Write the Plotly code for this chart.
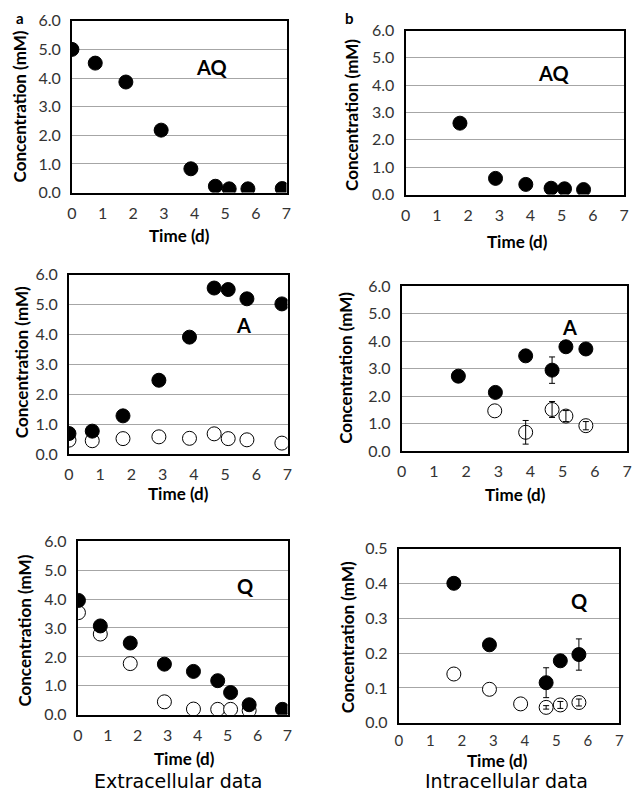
import plotly.graph_objects as go

# ---- data ----
ext_aq_t = [0, 0.76, 1.76, 2.91, 3.88, 4.68, 5.13, 5.74, 6.86]
ext_aq = [5.0, 4.52, 3.86, 2.18, 0.83, 0.22, 0.13, 0.13, 0.14]

int_aq_t = [1.74, 2.88, 3.85, 4.66, 5.09, 5.70]
int_aq = [2.61, 0.59, 0.37, 0.23, 0.21, 0.18]

ext_a_t = [0, 0.745, 1.73, 2.88, 3.86, 4.65, 5.10, 5.70, 6.82]
ext_a_filled = [0.69, 0.77, 1.28, 2.47, 3.91, 5.55, 5.50, 5.19, 5.02]
ext_a_open = [0.47, 0.45, 0.52, 0.58, 0.53, 0.68, 0.52, 0.48, 0.37]

int_a_t_filled = [1.76, 2.91, 3.85, 4.67, 5.10, 5.72]
int_a_filled = [2.73, 2.14, 3.47, 2.95, 3.80, 3.72]
int_a_filled_err = [0, 0, 0, 0.48, 0, 0]
int_a_t_open = [2.89, 3.85, 4.67, 5.10, 5.72]
int_a_open = [1.47, 0.69, 1.52, 1.28, 0.93]
int_a_open_err = [0, 0.43, 0.29, 0.2, 0.15]

ext_q_t_filled = [0.02, 0.75, 1.75, 2.89, 3.86, 4.67, 5.10, 5.72, 6.83]
ext_q_filled = [3.95, 3.07, 2.48, 1.75, 1.50, 1.18, 0.77, 0.35, 0.19]
ext_q_t_open = [0.02, 0.75, 1.75, 2.89, 3.86, 4.67, 5.10, 5.72]
ext_q_open = [3.53, 2.79, 1.77, 0.45, 0.20, 0.19, 0.19, 0.15]

int_q_t_filled = [1.75, 2.88, 4.68, 5.13, 5.72]
int_q_filled = [0.401, 0.224, 0.115, 0.178, 0.196]
int_q_filled_err = [0, 0, 0.043, 0, 0.045]
int_q_t_open = [1.75, 2.88, 3.87, 4.68, 5.13, 5.72]
int_q_open = [0.140, 0.096, 0.054, 0.044, 0.051, 0.058]
int_q_open_err = [0, 0, 0, 0.005, 0.01, 0.01]

x_ticks = [0, 1, 2, 3, 4, 5, 6, 7]
y_ticks_big = [0, 1, 2, 3, 4, 5, 6]
y_ticks_big_text = ["0.0", "1.0", "2.0", "3.0", "4.0", "5.0", "6.0"]
y_ticks_small = [0, 0.1, 0.2, 0.3, 0.4, 0.5]
y_ticks_small_text = ["0.0", "0.1", "0.2", "0.3", "0.4", "0.5"]

panel_labels = ["AQ", "AQ", "A", "A", "Q", "Q"]
x_title = "Time (d)"
y_title = "Concentration (mM)"
col_titles = ["Extracellular data", "Intracellular data"]
letters = ["a", "b"]

W, H = 638, 800


def px(x):
    return x / W


def py(y):
    return 1 - y / H


# plot boxes in pixels: (left, right, top, bottom)
boxes = [
    (68, 286, 11, 187),
    (407, 629, 21, 189),
    (65, 287, 271, 455),
    (403, 632, 283, 452),
    (74, 287, 544, 722),
    (400, 624, 552, 730),
]
label_pos = [(4.56, 4.4), (4.73, 4.43), (5.58, 4.3), (5.21, 4.51), (5.61, 4.45), (5.74, 0.349)]
xtitle_pos = [(177, 231), (521, 237), (176, 495), (519, 496), (182, 767), (500, 769)]
ytitle_pos = [(15, 99), (352, 107), (17, 361), (346, 367), (20, 636), (348, 643)]
xtick_standoff = [5, 5, 5, 5, 5, 3]

FONT = "Lato"
MS = 14

fig = go.Figure()


def axname(k):
    return "" if k == 1 else str(k)


def filled(x, y, k):
    ax = axname(k)
    fig.add_trace(go.Scatter(
        x=x, y=y, mode="markers", xaxis="x" + ax, yaxis="y" + ax,
        marker=dict(size=MS, color="black", line=dict(color="black", width=1)),
        showlegend=False, hoverinfo="skip"))


def opened(x, y, k):
    ax = axname(k)
    fig.add_trace(go.Scatter(
        x=x, y=y, mode="markers", xaxis="x" + ax, yaxis="y" + ax,
        marker=dict(size=MS, color="white", line=dict(color="black", width=1)),
        showlegend=False, hoverinfo="skip"))


def errors(x, y, e, k):
    ax = axname(k)
    xs = [a for a, b in zip(x, e) if b > 0]
    ys = [a for a, b in zip(y, e) if b > 0]
    es = [b for b in e if b > 0]
    fig.add_trace(go.Scatter(
        x=xs, y=ys, mode="markers", xaxis="x" + ax, yaxis="y" + ax,
        marker=dict(size=1, color="rgba(0,0,0,0)"),
        error_y=dict(type="data", array=es, visible=True,
                     color="black", thickness=1, width=3),
        showlegend=False, hoverinfo="skip"))


filled(ext_aq_t, ext_aq, 1)
filled(int_aq_t, int_aq, 2)
opened(ext_a_t, ext_a_open, 3)
filled(ext_a_t, ext_a_filled, 3)
opened(int_a_t_open, int_a_open, 4)
filled(int_a_t_filled, int_a_filled, 4)
errors(int_a_t_open, int_a_open, int_a_open_err, 4)
errors(int_a_t_filled, int_a_filled, int_a_filled_err, 4)
opened(ext_q_t_open, ext_q_open, 5)
filled(ext_q_t_filled, ext_q_filled, 5)
opened(int_q_t_open, int_q_open, 6)
filled(int_q_t_filled, int_q_filled, 6)
errors(int_q_t_open, int_q_open, int_q_open_err, 6)
errors(int_q_t_filled, int_q_filled, int_q_filled_err, 6)

layout = dict(
    width=W, height=H, margin=dict(l=0, r=0, t=0, b=0),
    paper_bgcolor="white", plot_bgcolor="white",
    font=dict(family=FONT, color="#333333", size=16),
    showlegend=False,
)

annotations = []
for i in range(6):
    k = i + 1
    ax = axname(k)
    l, r, t, b = boxes[i]
    small = (k == 6)
    layout["xaxis" + ax] = dict(
        domain=[px(l), px(r)], anchor="y" + ax, range=[0, 7], tickvals=x_ticks,
        showgrid=False, zeroline=False, showline=True, linecolor="black",
        linewidth=2, mirror=True, ticks="", fixedrange=True,
        ticklabelstandoff=xtick_standoff[i], ticklabeloverflow="allow",
        tickfont=dict(family=FONT, size=16 if k != 6 else 15, color="#333333"),
    )
    layout["yaxis" + ax] = dict(
        domain=[py(b), py(t)], anchor="x" + ax,
        range=[0, 0.5] if small else [0, 6],
        tickvals=y_ticks_small if small else y_ticks_big,
        ticktext=y_ticks_small_text if small else y_ticks_big_text,
        showgrid=True, gridcolor="#a6a6a6", gridwidth=1, zeroline=False,
        showline=True, linecolor="black", linewidth=2, mirror=True, ticks="",
        fixedrange=True, ticklabelstandoff=6, ticklabeloverflow="allow",
        tickfont=dict(family=FONT, size=16, color="#333333"),
    )
    lx, ly = label_pos[i]
    annotations.append(dict(
        x=lx, y=ly, xref="x" + ax, yref="y" + ax, text="<b>%s</b>" % panel_labels[i],
        showarrow=False, font=dict(family=FONT, size=20, color="black")))
    tx, ty = xtitle_pos[i]
    annotations.append(dict(
        x=px(tx), y=py(ty), xref="paper", yref="paper", text="<b>%s</b>" % x_title,
        xanchor="center", yanchor="middle", showarrow=False, borderpad=0,
        font=dict(family=FONT, size=17, color="black")))
    tx, ty = ytitle_pos[i]
    annotations.append(dict(
        x=px(tx), y=py(ty), xref="paper", yref="paper", text="<b>%s</b>" % y_title,
        xanchor="center", yanchor="middle", textangle=-90, showarrow=False,
        font=dict(family=FONT, size=17, color="black")))

annotations += [
    dict(x=px(15), y=py(8), xref="paper", yref="paper", text="<b>%s</b>" % letters[0],
         xanchor="center", yanchor="middle",
         showarrow=False, font=dict(family=FONT, size=15, color="black")),
    dict(x=px(350), y=py(8), xref="paper", yref="paper", text="<b>%s</b>" % letters[1],
         xanchor="center", yanchor="middle",
         showarrow=False, font=dict(family=FONT, size=15, color="black")),
    dict(x=px(176), y=py(790), xref="paper", yref="paper", text=col_titles[0],
         xanchor="center", yanchor="middle",
         showarrow=False, font=dict(family="DejaVu Sans", size=19, color="black")),
    dict(x=px(509), y=py(790), xref="paper", yref="paper", text=col_titles[1],
         xanchor="center", yanchor="middle",
         showarrow=False, font=dict(family="DejaVu Sans", size=19, color="black")),
]
layout["annotations"] = annotations
fig.update_layout(**layout)

fig.write_html("out.html", config={"displayModeBar": False},
               post_script="document.body.style.margin='0';document.body.style.overflow='hidden';")
